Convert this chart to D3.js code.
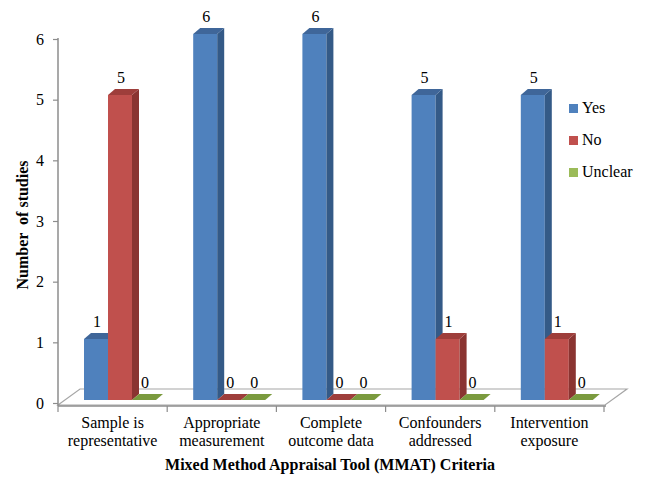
<!DOCTYPE html>
<html>
<head>
<meta charset="utf-8">
<script src="https://cdn.jsdelivr.net/npm/d3@7"></script>
</head>
<body style="margin:0;background:#ffffff">
<svg id="mmatfig" width="646" height="480" style="display:block"></svg>
<script>
const categories = [
  ["Sample is", "representative"],
  ["Appropriate", "measurement"],
  ["Complete", "outcome data"],
  ["Confounders", "addressed"],
  ["Intervention", "exposure"]
];
const seriesNames = ["Yes", "No", "Unclear"];
const yesValues = [1, 6, 6, 5, 5];
const noValues = [5, 0, 0, 1, 1];
const unclearValues = [0, 0, 0, 0, 0];
const yTicks = [0, 1, 2, 3, 4, 5, 6];

const seriesValues = [yesValues, noValues, unclearValues];
const colors = {
  Yes:     { front: "#4F81BD", side: "#345A87", top: "#3F6699" },
  No:      { front: "#C0504D", side: "#8A3431", top: "#9E3E3B" },
  Unclear: { front: "#9BBB59", side: "#6F8A3C", top: "#7A9A3E" }
};
const SERIF = "Liberation Serif";

const svg = d3.select("#mmatfig");
const catKeys = categories.map(c => c.join(" "));

const x = d3.scaleBand().domain(catKeys).range([58, 604]).paddingInner(0).paddingOuter(0);
const xSub = d3.scaleBand().domain(seriesNames).range([26, 98]).padding(0);
const yBar = d3.scaleLinear().domain([0, 6]).range([400, 34]);
const yAxisScale = d3.scaleLinear().domain([0, 6]).range([403, 39]);
const depthX = 7, depthY = -6;

function txt(sel, size) {
  return sel.attr("font-family", SERIF).style("font-family", SERIF, "important")
    .attr("font-size", size).attr("fill", "#000");
}

// Floor
const floorFront = 405, floorBackDX = 22, floorBackDY = -16;
svg.append("polygon")
  .attr("points", [
    [58, floorFront], [58 + floorBackDX, floorFront + floorBackDY],
    [605 + floorBackDX, floorFront + floorBackDY], [605, floorFront]
  ].map(p => p.join(",")).join(" "))
  .attr("fill", "#ffffff").attr("stroke", "#a6a6a6").attr("stroke-width", 1.2);

// Y axis
const yAxis = d3.axisLeft(yAxisScale).tickValues(yTicks).tickSize(5).tickPadding(9).tickFormat(d3.format("d"));
const gy = svg.append("g").attr("transform", "translate(58,0)").call(yAxis);
gy.attr("font-family", SERIF).attr("font-size", 16);
gy.select(".domain").attr("stroke", "#8c8c8c").attr("stroke-width", 1.5).attr("d", "M0,38V406");
gy.selectAll(".tick line").attr("stroke", "#8c8c8c").attr("stroke-width", 1.2);
txt(gy.selectAll(".tick text"), 16);

// X axis line and ticks
const gx = svg.append("g");
gx.append("line").attr("x1", 58).attr("x2", 606).attr("y1", 406).attr("y2", 406)
  .attr("stroke", "#8c8c8c").attr("stroke-width", 1.5);
catKeys.forEach((k) => {
  const xe = x(k) + x.bandwidth();
  gx.append("line").attr("x1", xe).attr("x2", xe).attr("y1", 406).attr("y2", 412)
    .attr("stroke", "#8c8c8c").attr("stroke-width", 1.2);
});
gx.append("line").attr("x1", 58).attr("x2", 58).attr("y1", 406).attr("y2", 412)
  .attr("stroke", "#8c8c8c").attr("stroke-width", 1.2);

// Bars
const bw = xSub.bandwidth();
categories.forEach((cat, ci) => {
  const key = catKeys[ci];
  seriesNames.forEach((s, si) => {
    const v = seriesValues[si][ci];
    const x0 = x(key) + xSub(s);
    const x1 = x0 + bw;
    const yT = yBar(v), yB = yBar(0);
    const c = colors[s];
    const g = svg.append("g");
    if (v > 0) {
      g.append("rect").attr("x", x0).attr("y", yT).attr("width", bw).attr("height", yB - yT).attr("fill", c.front);
      g.append("polygon").attr("points", [[x1, yT], [x1 + depthX, yT + depthY], [x1 + depthX, yB + depthY], [x1, yB]].map(p => p.join(",")).join(" "))
        .attr("fill", c.side);
    }
    g.append("polygon").attr("points", [[x0, yT], [x0 + depthX, yT + depthY], [x1 + depthX, yT + depthY], [x1, yT]].map(p => p.join(",")).join(" "))
      .attr("fill", c.top);
    txt(g.append("text"), 16).attr("x", x0 + bw / 2 + 1).attr("y", yT - 12)
      .attr("text-anchor", "middle").text(v);
  });
});

// Category labels
categories.forEach((cat, ci) => {
  const cx = x(catKeys[ci]) + x.bandwidth() / 2;
  const t = txt(svg.append("text"), 16).attr("text-anchor", "middle");
  cat.forEach((line, li) => {
    txt(t.append("tspan"), 16).attr("x", cx).attr("y", 428 + li * 18).text(line);
  });
});

// Axis titles
txt(svg.append("text"), 16).attr("x", 330).attr("y", 470).attr("text-anchor", "middle")
  .attr("font-weight", "bold")
  .text("Mixed Method Appraisal Tool (MMAT) Criteria");
txt(svg.append("text"), 16).attr("transform", "translate(28,225) rotate(-90)").attr("text-anchor", "middle")
  .attr("font-weight", "bold").style("white-space", "pre")
  .text("Number  of studies");

// Legend
const legend = svg.append("g");
seriesNames.forEach((s, i) => {
  const ly = 104 + i * 32;
  legend.append("rect").attr("x", 569).attr("y", ly).attr("width", 9).attr("height", 9).attr("fill", colors[s].front);
  txt(legend.append("text"), 16).attr("x", 582).attr("y", ly + 9).text(s);
});
</script>
</body>
</html>
